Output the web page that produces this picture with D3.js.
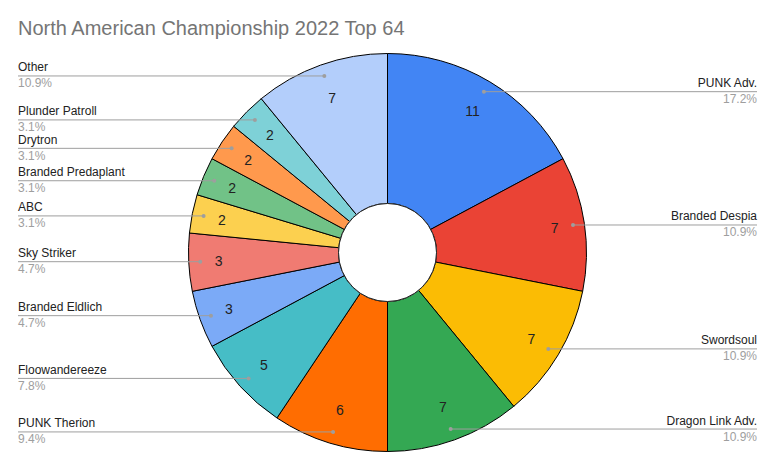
<!DOCTYPE html>
<html><head><meta charset="utf-8">
<script src="https://cdn.jsdelivr.net/npm/d3@7"></script>
<style>body{margin:0;background:#fff;}svg{display:block;font-family:Arial,"Liberation Sans",sans-serif;}</style>
</head><body>
<svg id="chart" width="777" height="467"></svg>
<script>
const title = "North American Championship 2022 Top 64";
const categories = ["PUNK Adv.","Branded Despia","Swordsoul","Dragon Link Adv.","PUNK Therion","Floowandereeze","Branded Eldlich","Sky Striker","ABC","Branded Predaplant","Drytron","Plunder Patroll","Other"];
const values = [11,7,7,7,6,5,3,3,2,2,2,2,7];
const colors = ["#4285f4","#ea4335","#fbbc04","#34a853","#ff6d01","#46bdc6","#7baaf7","#f07b72","#fcd04f","#71c287","#ff994d","#7ed1d7","#b3cefb"];

const svg = d3.select("#chart");
svg.append("rect").attr("width",777).attr("height",467).attr("fill","#fff");
svg.append("text").attr("x",18).attr("y",35).attr("font-size",20).attr("fill","#757575").text(title);

const cx = 387.5, cy = 252.5, R = 199, r0 = 49;
const total = d3.sum(values);
const pie = d3.pie().sort(null).value(d=>d.v);
const arcs = pie(categories.map((c,i)=>({c, v:values[i], col:colors[i]})));
const arc = d3.arc().innerRadius(r0).outerRadius(R);
const g = svg.append("g").attr("transform",`translate(${cx},${cy})`);
g.selectAll("path.slice").data(arcs).join("path").attr("class","slice")
  .attr("d",arc).attr("fill",d=>d.data.col).attr("stroke","#000").attr("stroke-width",1);
g.append("circle").attr("r",r0).attr("fill","#fff").attr("stroke","#222").attr("stroke-width",1);

function labelPos(d){
  const a = (d.startAngle+d.endAngle)/2;
  const s = Math.sin(a);
  const rr = 164 + 5*s*s;
  return [rr*Math.sin(a), -rr*Math.cos(a)];
}
g.selectAll("text.val").data(arcs).join("text").attr("class","val")
  .attr("transform",d=>`translate(${labelPos(d)})`)
  .attr("text-anchor","middle").attr("dy","0.36em").attr("font-size",14).attr("fill","#222")
  .text(d=>d.data.v);

const dotR = 187.5;
const fmt = v => (Math.round(v/total*1000)/10).toFixed(1)+"%";
arcs.forEach(d=>{
  const a = (d.startAngle+d.endAngle)/2;
  const x = cx + dotR*Math.sin(a), y = cy - dotR*Math.cos(a);
  const right = a < Math.PI;
  const xe = right ? 757 : 18;
  svg.append("line").attr("x1",x).attr("y1",y).attr("x2",xe).attr("y2",y)
    .attr("stroke","#9e9e9e").attr("stroke-width",1);
  svg.append("circle").attr("cx",x).attr("cy",y).attr("r",2).attr("fill","#9e9e9e");
  svg.append("text").attr("x",xe).attr("y",y-4.5).attr("text-anchor",right?"end":"start")
    .attr("font-size",12).attr("fill","#222").text(d.data.c);
  svg.append("text").attr("x",xe).attr("y",y+11.5).attr("text-anchor",right?"end":"start")
    .attr("font-size",12).attr("fill","#9e9e9e").text(fmt(d.data.v));
});
</script>
</body></html>
